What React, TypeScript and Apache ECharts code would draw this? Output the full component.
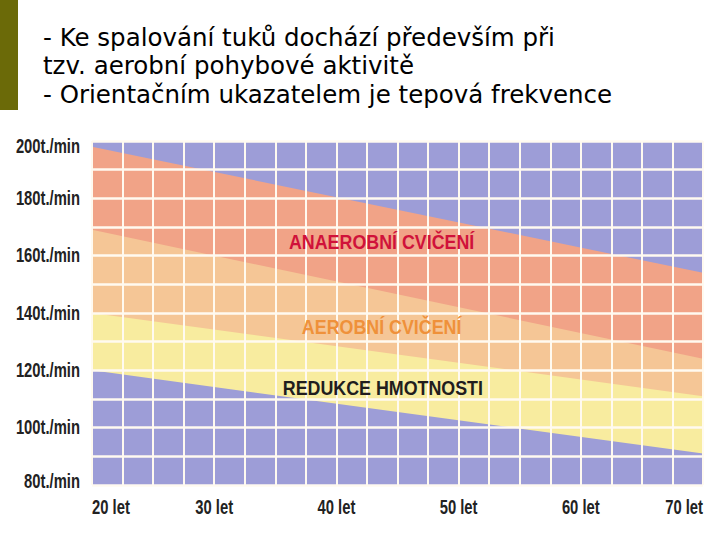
import React, { useEffect, useRef } from "react";
import * as echarts from "echarts";

// Age axis (years) and heart-rate axis (beats/min)
const ageTicks = [20, 30, 40, 50, 60, 70];
const hrTicks = [80, 100, 120, 140, 160, 180, 200];

// Zone boundaries: [age, heart rate]
const anaerobicTop = [[20, 198], [70, 154]];
const aerobicTop = [[20, 169], [70, 124]];
const reductionTop = [[20, 140], [70, 111]];
const reductionBottom = [[20, 120], [70, 91]];

// Zone labels: [age, heart rate]
const zoneNames = ["ANAEROBNÍ CVIČENÍ", "AEROBNÍ CVIČENÍ", "REDUKCE HMOTNOSTI"];
const zoneLabelPos = [[43.7, 164.8], [43.7, 135.2], [43.8, 113.9]];
const zoneLabelColors = ["#d0123a", "#ef913a", "#211d1e"];

const titleLines = [
  "- Ke spalování tuků dochází především při",
  "tzv. aerobní pohybové aktivitě",
  "- Orientačním ukazatelem je tepová frekvence",
];

const PURPLE = "#9d9dd7";
const SALMON = "#f1a387";
const PEACH = "#f5c696";
const YELLOW = "#f8ec9f";

function area(name: string, data: number[][], color: string) {
  return {
    name,
    type: "line",
    data,
    z: 1,
    showSymbol: false,
    symbol: "none",
    silent: true,
    lineStyle: { width: 0 },
    areaStyle: { color, opacity: 1, origin: "start" },
  };
}

export default function App() {
  const ref = useRef<HTMLDivElement>(null);
  useEffect(() => {
    if (!ref.current) return;
    const chart = echarts.init(ref.current, null, { renderer: "svg" });
    const axisFont = "bold 20px 'Liberation Sans', Arial, sans-serif";
    const zoneFont = "bold 21px 'Liberation Sans', Arial, sans-serif";
    chart.setOption({
      animation: false,
      backgroundColor: "#ffffff",
      grid: {
        left: 92,
        top: 141,
        right: 17,
        bottom: 55,
        show: true,
        backgroundColor: PURPLE,
        borderWidth: 0,
      },
      xAxis: {
        type: "value",
        min: 20,
        max: 70,
        interval: 2.5,
        z: 5,
        axisLine: { show: false },
        axisTick: { show: false },
        axisLabel: { show: false },
        splitLine: { show: true, lineStyle: { color: "#fffaf0", width: 2 } },
      },
      yAxis: {
        type: "value",
        min: 80,
        max: 200,
        interval: 10,
        z: 5,
        axisLine: { show: false },
        axisTick: { show: false },
        axisLabel: { show: false },
        splitLine: { show: true, lineStyle: { color: "#fffaf0", width: 2.5 } },
      },
      series: [
        area("anaerobní", anaerobicTop, SALMON),
        area("aerobní", aerobicTop, PEACH),
        area("redukce", reductionTop, YELLOW),
        area("pod", reductionBottom, PURPLE),
      ],
    });

    const toPx = (p: number[]) => chart.convertToPixel({ gridIndex: 0 }, p) as number[];
    const top = toPx([20, 200])[1];
    const bottom = toPx([20, 80])[1];
    const leftX = toPx([20, 80])[0];

    const yLabels = hrTicks.map((v) => {
      const py = toPx([20, v])[1];
      const y = Math.min(Math.max(py, top + 5), bottom - 4);
      return {
        type: "text",
        x: leftX - 12,
        y,
        z: 20,
        scaleX: 0.74,
        style: {
          text: v + "t./min",
          fill: "#222222",
          font: axisFont,
          textAlign: "right",
          textVerticalAlign: "middle",
        },
      };
    });

    const xLabels = ageTicks.map((a, i) => {
      const px = toPx([a, 80])[0];
      const align = i === 0 ? "left" : i === ageTicks.length - 1 ? "right" : "center";
      return {
        type: "text",
        x: px,
        y: bottom + 22,
        z: 20,
        scaleX: 0.74,
        style: {
          text: a + " let",
          fill: "#222222",
          font: axisFont,
          textAlign: align,
          textVerticalAlign: "middle",
        },
      };
    });

    const zoneLabels = zoneNames.map((n, i) => {
      const [px, py] = toPx(zoneLabelPos[i]);
      return {
        type: "text",
        x: px,
        y: py,
        z: 20,
        scaleX: 0.85,
        style: {
          text: n,
          fill: zoneLabelColors[i],
          font: zoneFont,
          textAlign: "center",
          textVerticalAlign: "middle",
        },
      };
    });

    chart.setOption({
      graphic: [
        { type: "rect", left: 0, top: 0, z: 20, shape: { width: 18, height: 110 }, style: { fill: "#6b6a08" } },
        ...titleLines.map((t, i) => ({
          type: "text",
          x: 43,
          y: 37 + i * 28.7,
          z: 20,
          style: {
            text: t,
            fill: "#000000",
            font: "24.5px 'DejaVu Sans', Verdana, sans-serif",
            textVerticalAlign: "middle",
          },
        })),
        ...yLabels,
        ...xLabels,
        ...zoneLabels,
      ],
    });
    return () => chart.dispose();
  }, []);
  return <div ref={ref} style={{ position: "fixed", left: 0, top: 0, width: 720, height: 540 }} />;
}
